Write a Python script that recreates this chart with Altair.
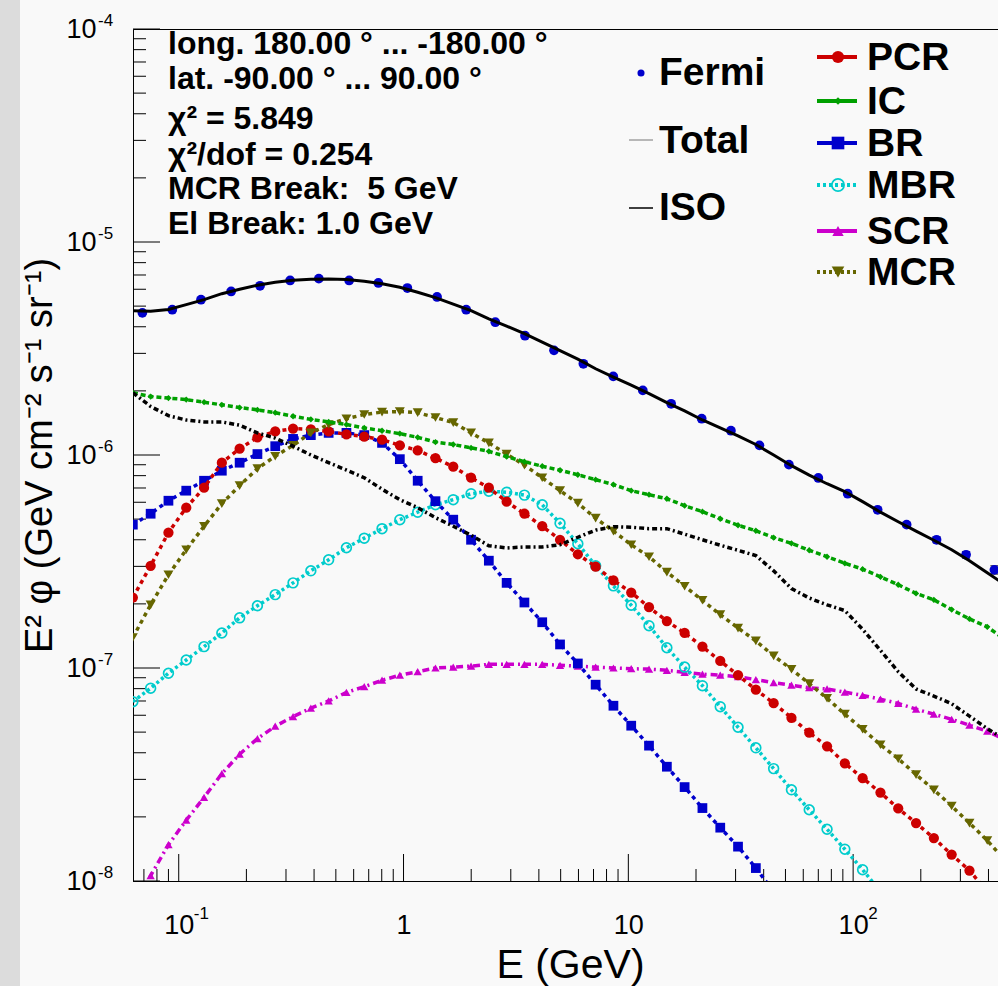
import altair as alt
import pandas as pd

FONT = "Liberation Sans"

# ---- model energy grid (GeV) shared by the fitted components ----
energy = [0.0625, 0.075, 0.09, 0.108, 0.1296, 0.1555, 0.1866, 0.2239, 0.2687, 0.3225,
          0.387, 0.4644, 0.5572, 0.6687, 0.8024, 0.9629, 1.156, 1.387, 1.664, 1.997,
          2.396, 2.875, 3.450, 4.140, 4.968, 5.962, 7.154, 8.585, 10.30, 12.36,
          14.84, 17.80, 21.36, 25.64, 30.76, 36.92, 44.30, 53.16, 63.79, 76.55,
          91.86, 110.2, 132.3, 158.7, 190.5, 228.6, 274.3, 329.2, 395.0, 474.0]

# ---- E^2 * flux of each component (GeV cm^-2 s^-1 sr^-1) ----
total = [4.76e-6, 4.73e-6, 4.82e-6, 5.08e-6, 5.36e-6, 5.72e-6, 6.00e-6, 6.27e-6, 6.47e-6, 6.62e-6,
         6.69e-6, 6.70e-6, 6.67e-6, 6.55e-6, 6.37e-6, 6.13e-6, 5.81e-6, 5.48e-6, 5.11e-6, 4.76e-6,
         4.36e-6, 4.03e-6, 3.71e-6, 3.39e-6, 3.09e-6, 2.82e-6, 2.54e-6, 2.32e-6, 2.13e-6, 1.94e-6,
         1.76e-6, 1.61e-6, 1.46e-6, 1.34e-6, 1.23e-6, 1.12e-6, 1.00e-6, 8.91e-7, 8.04e-7, 7.33e-7,
         6.73e-7, 6.04e-7, 5.39e-7, 4.86e-7, 4.39e-7, 3.98e-7, 3.59e-7, 3.19e-7, 2.80e-7, 2.46e-7]

pcr = [2.14e-7, 3.02e-7, 4.32e-7, 5.66e-7, 7.02e-7, 9.20e-7, 1.07e-6, 1.21e-6, 1.29e-6, 1.33e-6,
       1.32e-6, 1.29e-6, 1.25e-6, 1.22e-6, 1.18e-6, 1.11e-6, 1.05e-6, 9.66e-7, 8.81e-7, 7.82e-7,
       7.02e-7, 6.04e-7, 5.30e-7, 4.63e-7, 4.00e-7, 3.42e-7, 2.99e-7, 2.58e-7, 2.26e-7, 1.93e-7,
       1.66e-7, 1.46e-7, 1.26e-7, 1.08e-7, 9.25e-8, 7.91e-8, 6.84e-8, 5.84e-8, 4.97e-8, 4.29e-8,
       3.57e-8, 3.04e-8, 2.60e-8, 2.19e-8, 1.87e-8, 1.59e-8, 1.33e-8, 1.12e-8, 8.91e-9, 7.33e-9]

ic = [1.96e-6, 1.88e-6, 1.85e-6, 1.82e-6, 1.77e-6, 1.72e-6, 1.67e-6, 1.63e-6, 1.58e-6, 1.52e-6,
      1.47e-6, 1.43e-6, 1.39e-6, 1.34e-6, 1.30e-6, 1.26e-6, 1.21e-6, 1.15e-6, 1.12e-6, 1.08e-6,
      1.04e-6, 9.82e-7, 9.30e-7, 8.86e-7, 8.48e-7, 8.08e-7, 7.66e-7, 7.26e-7, 6.80e-7, 6.51e-7,
      6.23e-7, 5.78e-7, 5.42e-7, 5.02e-7, 4.68e-7, 4.41e-7, 4.09e-7, 3.85e-7, 3.57e-7, 3.33e-7,
      3.10e-7, 2.91e-7, 2.68e-7, 2.46e-7, 2.24e-7, 2.09e-7, 1.88e-7, 1.70e-7, 1.56e-7, 1.36e-7]

br = [4.71e-7, 5.30e-7, 6.10e-7, 6.80e-7, 7.57e-7, 8.44e-7, 9.20e-7, 1.01e-6, 1.10e-6, 1.19e-6,
      1.24e-6, 1.27e-6, 1.27e-6, 1.24e-6, 1.14e-6, 9.56e-7, 7.57e-7, 6.07e-7, 4.97e-7, 4.00e-7,
      3.19e-7, 2.51e-7, 2.03e-7, 1.64e-7, 1.29e-7, 1.05e-7, 8.35e-8, 6.65e-8, 5.36e-8, 4.32e-8,
      3.44e-8, 2.76e-8, 2.20e-8, 1.78e-8, 1.45e-8, 1.15e-8, 8.91e-9, 7.10e-9]

mbr = [6.95e-8, 8.04e-8, 9.45e-8, 1.09e-7, 1.26e-7, 1.46e-7, 1.72e-7, 1.96e-7, 2.21e-7, 2.51e-7,
       2.86e-7, 3.22e-7, 3.67e-7, 4.07e-7, 4.51e-7, 4.97e-7, 5.39e-7, 5.84e-7, 6.17e-7, 6.58e-7,
       6.76e-7, 6.69e-7, 6.48e-7, 5.84e-7, 4.78e-7, 3.83e-7, 3.02e-7, 2.43e-7, 1.97e-7, 1.58e-7,
       1.245e-7, 1.01e-7, 8.26e-8, 6.58e-8, 5.27e-8, 4.22e-8, 3.37e-8, 2.68e-8, 2.16e-8, 1.75e-8,
       1.41e-8, 1.13e-8, 8.91e-9, 7.18e-9]

scr = [7.49e-9, 1.06e-8, 1.48e-8, 1.93e-8, 2.47e-8, 3.19e-8, 3.94e-8, 4.66e-8, 5.33e-8, 5.91e-8,
       6.48e-8, 7.00e-8, 7.68e-8, 8.17e-8, 8.76e-8, 9.25e-8, 9.61e-8, 1.00e-7, 1.01e-7, 1.02e-7,
       1.04e-7, 1.04e-7, 1.04e-7, 1.04e-7, 1.03e-7, 1.02e-7, 1.01e-7, 1.00e-7, 9.92e-8, 9.88e-8,
       9.75e-8, 9.55e-8, 9.35e-8, 9.27e-8, 9.10e-8, 8.82e-8, 8.54e-8, 8.30e-8, 8.08e-8, 7.97e-8,
       7.70e-8, 7.44e-8, 7.14e-8, 6.82e-8, 6.41e-8, 6.07e-8, 5.74e-8, 5.39e-8, 5.05e-8, 4.61e-8]

mcr = [1.39e-7, 1.98e-7, 2.74e-7, 3.59e-7, 4.63e-7, 5.91e-7, 7.18e-7, 8.63e-7, 9.87e-7, 1.11e-6,
       1.27e-6, 1.39e-6, 1.48e-6, 1.55e-6, 1.59e-6, 1.60e-6, 1.58e-6, 1.50e-6, 1.42e-6, 1.27e-6,
       1.14e-6, 1.01e-6, 8.96e-7, 7.82e-7, 6.80e-7, 5.94e-7, 5.05e-7, 4.39e-7, 3.79e-7, 3.33e-7,
       2.82e-7, 2.42e-7, 2.08e-7, 1.78e-7, 1.54e-7, 1.34e-7, 1.14e-7, 9.87e-8, 8.44e-8, 7.21e-8,
       6.07e-8, 5.16e-8, 4.36e-8, 3.75e-8, 3.16e-8, 2.68e-8, 2.25e-8, 1.87e-8, 1.55e-8, 1.25e-8]

iso = [1.96e-6, 1.69e-6, 1.53e-6, 1.46e-6, 1.43e-6, 1.43e-6, 1.38e-6, 1.27e-6, 1.20e-6, 1.10e-6,
       1.00e-6, 9.20e-7, 8.50e-7, 7.82e-7, 6.91e-7, 6.17e-7, 5.66e-7, 5.08e-7, 4.63e-7, 4.20e-7,
       3.75e-7, 3.66e-7, 3.70e-7, 3.70e-7, 3.79e-7, 4.11e-7, 4.44e-7, 4.61e-7, 4.58e-7, 4.51e-7,
       4.51e-7, 4.25e-7, 4.00e-7, 3.77e-7, 3.57e-7, 3.37e-7, 2.86e-7, 2.36e-7, 2.13e-7, 1.98e-7,
       1.86e-7, 1.52e-7, 1.21e-7, 9.61e-8, 7.97e-8, 7.38e-8, 6.80e-8, 5.94e-8, 5.19e-8, 4.61e-8]

# ---- Fermi-LAT data points ----
fermi_energy = [0.0689, 0.0936, 0.1256, 0.171, 0.230, 0.313, 0.420, 0.573, 0.773, 1.04,
                1.41, 1.90, 2.56, 3.47, 4.67, 6.31, 8.57, 11.6, 15.5, 21.2,
                28.6, 38.3, 51.8, 70.0, 94.6, 128.5, 173.0, 235.0, 318.0, 425.0]
fermi_flux = [4.65e-6, 4.81e-6, 5.36e-6, 5.86e-6, 6.23e-6, 6.60e-6, 6.73e-6, 6.60e-6, 6.42e-6, 6.08e-6,
              5.52e-6, 4.81e-6, 4.20e-6, 3.63e-6, 3.10e-6, 2.68e-6, 2.34e-6, 2.01e-6, 1.74e-6, 1.48e-6,
              1.30e-6, 1.11e-6, 9.01e-7, 7.80e-7, 6.58e-7, 5.53e-7, 4.71e-7, 4.00e-7, 3.40e-7, 2.89e-7]
fermi_err = [6e-8, 6e-8, 7e-8, 7e-8, 7e-8, 8e-8, 8e-8, 8e-8, 7e-8, 7e-8,
             6e-8, 5e-8, 4e-8, 4e-8, 3e-8, 3e-8, 2.5e-8, 2.2e-8, 2e-8, 1.8e-8,
             1.6e-8, 1.4e-8, 1.2e-8, 1.1e-8, 1.0e-8, 1.0e-8, 1.1e-8, 1.2e-8, 1.2e-8, 1.3e-8]

# ---- axis labels ----
x_major = [0.1, 1, 10, 100]
y_major = [1e-8, 1e-7, 1e-6, 1e-5, 1e-4]
x_exp_at = [0.1, 100]
x_exp_text = ["-1", "2"]
y_exp_text = ["-8", "-7", "-6", "-5", "-4"]

info_lines = ["long. 180.00 \u00b0 ... -180.00 \u00b0",
              "lat. -90.00 \u00b0 ... 90.00 \u00b0",
              "\u03c7\u00b2 = 5.849",
              "\u03c7\u00b2/dof = 0.254",
              "MCR Break: \u00a05 GeV",
              "El Break: 1.0 GeV"]

W, H = 865, 852
X_SCALE = alt.Scale(type="log", domain=[0.0626, 441], nice=False)
Y_SCALE = alt.Scale(type="log", domain=[1e-8, 1e-4], nice=False)

X_AXIS = alt.Axis(values=x_major,
                  labelExpr="datum.value < 0.5 ? '10' : datum.value < 5 ? '1' : '10'",
                  ticks=False, tickSize=0, grid=False, domainColor="black", domainWidth=1,
                  labelFont=FONT, labelFontSize=27, labelColor="black", labelPadding=44,
                  labelBaseline="middle", labelAlign="center", labelFlush=False, labelOverlap=False,
                  title="E (GeV)", titleFont=FONT, titleFontSize=41, titleFontWeight="normal",
                  titleColor="black", titleX=437, titleY=84, titleAlign="center",
                  titleBaseline="middle")
Y_AXIS = alt.Axis(values=y_major, labelExpr="'10'",
                  ticks=False, tickSize=0, grid=False, domainColor="black", domainWidth=1,
                  labelFont=FONT, labelFontSize=27, labelColor="black", labelPadding=37,
                  labelAlign="right", labelBaseline="middle", labelFlush=False, labelOverlap=False,
                  title="E\u00b2 \u03c6 (GeV cm\u207b\u00b2 s\u207b\u00b9 sr\u207b\u00b9)",
                  titleFont=FONT, titleFontSize=38, titleFontWeight="normal", titleColor="black",
                  titleX=-93, titleY=426, titleAngle=270, titleAlign="center",
                  titleBaseline="middle")


def X(field):
    return alt.X(field, type="quantitative", scale=X_SCALE, axis=X_AXIS)


def Y(field):
    return alt.Y(field, type="quantitative", scale=Y_SCALE, axis=Y_AXIS)


RED, GREEN, BLUE = "#cc0000", "#00a000", "#0000cc"
CYAN, MAGENTA, OLIVE = "#00cccc", "#cc00cc", "#666600"

one = pd.DataFrame({"a": [0]})
layers = []

# grey strip along the left edge of the canvas
layers.append(alt.Chart(one).mark_rect(color="#dcdcdc").encode(
    x=alt.value(-133), x2=alt.value(-113), y=alt.value(-29), y2=alt.value(H + 105)))

# inward-pointing log ticks
x_minor = [k * 10.0 ** n for n in range(-2, 3) for k in range(2, 10)
           if 0.0626 <= k * 10.0 ** n <= 441]
y_minor = [k * 10.0 ** n for n in range(-8, -4) for k in range(2, 10)]


def x_ticks(vals, length):
    return alt.Chart(pd.DataFrame({"v": vals})).mark_rule(color="black", strokeWidth=1).encode(
        x=X("v"), y=alt.value(H), y2=alt.value(H - length))


def y_ticks(vals, length):
    return alt.Chart(pd.DataFrame({"v": vals})).mark_rule(color="black", strokeWidth=1).encode(
        y=Y("v"), x=alt.value(0), x2=alt.value(length))


layers += [x_ticks(x_minor, 12), x_ticks(x_major, 27), y_ticks(y_minor, 13), y_ticks(y_major, 27)]


def component(values, color, dash, shape, size, filled=True):
    df = pd.DataFrame({"E": energy[:len(values)], "flux": values})
    base = alt.Chart(df).encode(x=X("E"), y=Y("flux"))
    line = base.mark_line(color=color, strokeWidth=3.5, strokeDash=dash, clip=True)
    if filled:
        pts = base.mark_point(shape=shape, size=size, filled=True, fill=color,
                              strokeWidth=0, opacity=1, clip=True)
    else:
        pts = base.mark_point(shape=shape, size=size, filled=False, color=color,
                              strokeWidth=1.7, opacity=1, clip=True)
    return [line, pts]


layers += component(scr, MAGENTA, [7, 4, 2, 4], "triangle-up", 70)
layers += component(mbr, CYAN, [3, 3], "circle", 95, filled=False)
layers += component(br, BLUE, [4, 4], "square", 95)
layers += component(pcr, RED, [4, 4], "circle", 105)
layers += component(mcr, OLIVE, [4, 4], "triangle-down", 100)
layers += component(ic, GREEN, [5, 3], "diamond", 40)

iso_df = pd.DataFrame({"E": energy, "flux": iso})
layers.append(alt.Chart(iso_df).mark_line(color="black", strokeWidth=3.5,
                                          strokeDash=[5, 3, 2, 3], clip=True).encode(
    x=X("E"), y=Y("flux")))

# Fermi points with error bars
fermi_df = pd.DataFrame({"E": fermi_energy, "flux": fermi_flux,
                         "lo": [f - e for f, e in zip(fermi_flux, fermi_err)],
                         "hi": [f + e for f, e in zip(fermi_flux, fermi_err)]})
fb = alt.Chart(fermi_df).encode(x=X("E"))
layers.append(fb.mark_rule(color="black", strokeWidth=1.3, clip=True).encode(
    y=Y("lo"), y2="hi:Q"))
layers.append(fb.mark_tick(orient="horizontal", size=8, thickness=1.3, color="black",
                           clip=True).encode(y=Y("hi")))
layers.append(fb.mark_tick(orient="horizontal", size=8, thickness=1.3, color="black",
                           clip=True).encode(y=Y("lo")))
layers.append(fb.mark_point(shape="circle", size=95, filled=True, fill=BLUE, strokeWidth=0,
                            opacity=1, clip=True).encode(y=Y("flux")))

# total model line
total_df = pd.DataFrame({"E": energy, "flux": total})
layers.append(alt.Chart(total_df).mark_line(color="black", strokeWidth=3, clip=True).encode(
    x=X("E"), y=Y("flux")))

# exponents of the tick labels
layers.append(alt.Chart(pd.DataFrame({"v": x_exp_at, "t": x_exp_text})).mark_text(
    font=FONT, fontSize=17, align="left", baseline="middle", color="black", dx=15).encode(
    x=X("v"), y=alt.value(H + 33), text="t:N"))
layers.append(alt.Chart(pd.DataFrame({"v": y_major, "t": y_exp_text})).mark_text(
    font=FONT, fontSize=17, align="left", baseline="middle", color="black", dy=-8).encode(
    y=Y("v"), x=alt.value(-35), text="t:N"))

# fit summary text block
for line, ypix in zip(info_lines, [15, 50, 90, 126, 160, 195]):
    layers.append(alt.Chart(pd.DataFrame({"t": [line]})).mark_text(
        font=FONT, fontSize=32, fontWeight="bold", align="left", baseline="middle",
        color="black").encode(x=alt.value(35), y=alt.value(ypix), text="t:N"))

# legend, left column
layers.append(alt.Chart(one).mark_point(shape="circle", size=50, filled=True, fill=BLUE,
                                        strokeWidth=0, opacity=1).encode(
    x=alt.value(508), y=alt.value(44)))
layers.append(alt.Chart(one).mark_rule(color="#777777", strokeWidth=1).encode(
    x=alt.value(496), x2=alt.value(520), y=alt.value(111)))
layers.append(alt.Chart(one).mark_rule(color="black", strokeWidth=1.5).encode(
    x=alt.value(496), x2=alt.value(520), y=alt.value(179)))
for name, ypix in [("Fermi", 44), ("Total", 112), ("ISO", 179)]:
    layers.append(alt.Chart(pd.DataFrame({"t": [name]})).mark_text(
        font=FONT, fontSize=39, fontWeight="bold", align="left", baseline="middle",
        color="black").encode(x=alt.value(526), y=alt.value(ypix), text="t:N"))

# legend, right column
legend_items = [
    ("PCR", RED, "circle", True, None, 150, 28),
    ("IC", GREEN, "diamond", True, None, 60, 72),
    ("BR", BLUE, "square", True, None, 160, 114),
    ("MBR", CYAN, "circle", False, [3, 3], 150, 156),
    ("SCR", MAGENTA, "triangle-up", True, None, 130, 202),
    ("MCR", OLIVE, "triangle-down", True, [3, 3], 160, 243),
]
for name, color, shape, filled, dash, size, ypix in legend_items:
    rule_kw = dict(color=color, strokeWidth=4)
    if dash:
        rule_kw["strokeDash"] = dash
    layers.append(alt.Chart(one).mark_rule(**rule_kw).encode(
        x=alt.value(684), x2=alt.value(724), y=alt.value(ypix)))
    if filled:
        layers.append(alt.Chart(one).mark_point(shape=shape, size=size, filled=True, fill=color,
                                                strokeWidth=0, opacity=1).encode(
            x=alt.value(705), y=alt.value(ypix)))
    else:
        layers.append(alt.Chart(one).mark_point(shape=shape, size=size, filled=False, color=color,
                                                strokeWidth=1.7, opacity=1).encode(
            x=alt.value(705), y=alt.value(ypix)))
    layers.append(alt.Chart(pd.DataFrame({"t": [name]})).mark_text(
        font=FONT, fontSize=39, fontWeight="bold", align="left", baseline="middle",
        color="black").encode(x=alt.value(734), y=alt.value(ypix + 1), text="t:N"))

chart = alt.layer(*layers).properties(
    width=W, height=H,
    padding={"left": 133, "top": 29, "right": 0, "bottom": 105},
    autosize=alt.AutoSizeParams(type="none"),
    background="#f9f9f9",
).configure_view(stroke="black", strokeWidth=1)

chart.save("out.html", embed_options={"renderer": "svg", "actions": False})
